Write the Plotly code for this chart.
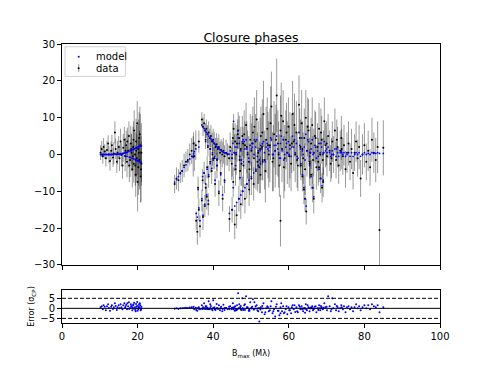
import plotly.graph_objects as go

# short baselines (10-21 Mλ)
b_short = [10.2, 10.5, 10.8, 11.0, 11.3, 11.6, 11.9, 12.2, 12.4, 12.7,
           13.0, 13.2, 13.5, 13.7, 14.0, 14.2, 14.5, 14.7, 15.0, 15.2,
           15.5, 15.7, 16.0, 16.2, 16.5, 16.7, 17.0, 17.2, 17.5, 17.7,
           18.0, 18.2, 18.4, 18.6, 18.8, 19.0, 19.1, 19.3, 19.5, 19.6,
           19.8, 19.9, 20.1, 20.2, 20.4, 20.5, 20.7, 20.8, 21.0, 21.0,
           17.3, 17.8, 18.3, 18.9, 19.4, 19.7, 20.0, 20.3, 20.6, 20.9,
           16.8, 18.7]
cp_short = [0.5, 1.5, -0.5, 2.0, 0.8, -1.0, 1.2, 3.0, 0.0, -1.8,
            1.0, 2.5, -0.8, 0.3, 6.0, 1.5, -2.0, 0.5, 2.0, -1.0,
            3.5, 0.0, -3.0, 1.8, 4.0, -0.5, 2.5, -2.0, 1.0, 5.0,
            -1.5, 3.0, 0.5, -4.0, 2.0, -2.5, 6.5, 0.0, -5.5, 3.5,
            -1.0, 8.5, 1.5, -3.5, 4.5, -1.5, 2.5, -6.0, 0.5, -2.5,
            3.5, -3.0, 1.5, 4.0, -3.0, 1.0, -7.5, 0.5, 5.5, -4.0,
            1.0, -0.5]
err_short = [2.0, 2.2, 2.0, 2.5, 2.0, 2.3, 2.5, 2.2, 2.4, 2.6,
             2.5, 2.8, 2.6, 3.0, 3.0, 2.8, 3.0, 3.2, 3.0, 3.5,
             3.5, 3.2, 3.6, 3.8, 3.5, 4.0, 4.0, 4.2, 4.5, 4.0,
             4.6, 4.8, 5.0, 5.0, 5.5, 5.2, 5.5, 6.0, 6.0, 6.2,
             6.5, 6.0, 7.0, 7.5, 7.0, 8.0, 8.5, 7.0, 8.0, 6.0,
             3.8, 4.5, 4.2, 5.0, 5.5, 7.0, 8.0, 9.0, 7.5, 9.0,
             3.5, 4.0]
mod_short = [0.0, 0.0, 0.0, 0.0, 0.0, 0.0, 0.0, 0.0, 0.0, 0.0,
             0.0, 0.0, 0.0, 0.0, 0.1, 0.1, 0.0, 0.1, 0.1, 0.1,
             0.2, -0.2, 0.2, 0.3, 0.4, -0.3, 0.5, -0.5, 0.8, 0.9,
             -0.8, 1.0, 1.2, -1.0, 1.4, -1.2, 1.5, 1.6, -1.5, 1.8,
             -1.6, 2.0, 2.1, -1.8, 2.2, -2.0, 2.3, -2.1, 2.3, -2.2,
             0.6, -0.7, 1.1, 1.4, -1.4, 1.8, -1.7, 2.1, 2.2, -2.2,
             0.5, 1.3]
res_short = [0.5, 1.0, -0.5, 1.5, 0.8, -1.0, 1.0, 2.0, 0.2, -1.2,
             0.8, 1.5, -0.3, 0.5, 2.5, 1.2, -0.8, 0.6, 1.5, 0.0,
             2.0, 0.5, -0.5, 1.5, 2.5, 0.3, 1.8, -0.5, 1.0, 3.0,
             0.2, 2.0, 0.8, -1.0, 1.5, -0.2, 2.8, 0.5, -1.5, 2.2,
             0.0, 3.2, 1.2, -0.5, 2.0, 0.5, 1.5, -1.0, 0.8, 0.0,
             2.5, -0.3, 1.2, 2.0, -0.8, 1.0, -1.2, 0.5, 2.5, -0.6,
             1.0, 0.4]

# mid baselines (30-44 Mλ)
b_mid = [29.8, 30.3, 30.8, 31.3, 31.8, 32.3, 32.8, 33.3, 33.8, 34.3,
         34.8, 35.0, 35.4, 34.7, 36.2,
         35.5, 35.8, 36.2, 36.5, 37.0, 37.3, 37.8, 38.3, 38.7, 36.0,
         37.0, 37.3, 37.6, 37.9, 38.2, 38.5, 38.8, 39.1, 39.4, 39.7,
         40.0, 40.3, 40.6, 40.9, 41.2, 41.5, 41.8, 42.1, 42.4, 42.7,
         43.0, 43.4, 43.8, 44.2,
         38.0, 38.6, 39.2, 39.8, 40.4, 41.0,
         37.2, 37.6, 38.0, 38.4, 38.8, 39.2, 39.6, 40.0, 40.5, 41.0,
         41.5, 42.0, 42.5, 43.0]
cp_mid = [-8.0, -6.5, -7.0, -5.0, -4.5, -3.0, -2.0, -1.5, 0.0, 1.0,
          3.0, -0.5, 2.5, -0.5, 3.5,
          -18.0, -21.0, -15.0, -19.5, -12.5, -17.0, -14.0, -11.5, -13.5, -9.0,
          9.5, 7.5, 8.5, 6.5, 7.0, 5.5, 6.0, 4.5, 5.0, 3.5,
          4.0, 3.0, 2.0, 2.8, 1.5, 2.0, 0.5, 1.2, 0.0, 1.0,
          -0.5, 0.5, 0.0, -1.0,
          4.0, 2.0, 1.5, 0.0, -1.0, -1.5,
          -7.0, -5.0, -9.0, -3.5, -6.0, -2.0, -4.5, -1.0, -8.0, -3.0,
          -10.5, -5.0, -12.0, -7.0]
err_mid = [2.5, 3.0, 3.0, 2.8, 3.0, 3.2, 2.8, 3.0, 3.0, 3.5,
           3.0, 4.0, 4.0, 5.5, 3.0,
           2.5, 3.5, 3.0, 3.0, 3.0, 3.5, 3.0, 3.5, 3.0, 3.0,
           2.0, 2.5, 2.5, 2.0, 2.5, 2.5, 3.0, 2.5, 3.0, 2.5,
           3.0, 3.0, 2.5, 3.0, 3.0, 3.5, 3.0, 3.0, 3.5, 3.5,
           3.0, 3.5, 3.0, 3.5,
           2.5, 2.5, 3.0, 3.0, 3.0, 3.0,
           3.0, 3.0, 3.5, 3.0, 3.0, 3.0, 3.5, 3.0, 3.5, 3.5,
           3.5, 3.5, 3.5, 3.5]
mod_mid = [-7.5, -6.8, -6.0, -5.2, -4.5, -3.5, -2.8, -2.0, -1.2, -0.5,
           0.2, 0.8, 1.5, -0.8, 2.0,
           -16.0, -17.0, -14.5, -18.0, -12.0, -16.5, -13.5, -11.0, -12.5, -9.5,
           8.0, 7.5, 7.0, 6.5, 6.0, 5.5, 5.0, 4.6, 4.2, 3.8,
           3.4, 3.0, 2.6, 2.2, 1.9, 1.6, 1.3, 1.0, 0.8, 0.6,
           0.4, 0.3, 0.2, 0.1,
           3.5, 2.5, 1.5, 0.5, -0.5, -1.2,
           -6.0, -5.0, -8.0, -4.0, -5.5, -2.5, -3.8, -1.5, -7.0, -3.0,
           -10.0, -5.5, -11.0, -7.5]
res_mid = [-0.2, 0.1, -0.3, 0.1, 0.0, 0.2, 0.3, 0.2, 0.4, 0.5,
           0.8, -0.5, 0.3, 0.1, 0.5,
           -0.8, -1.2, -0.2, -0.5, -0.2, -0.1, -0.2, -0.2, -0.3, 0.2,
           1.5, 0.5, 2.5, 0.0, 1.0, 0.2, 3.5, -0.5, 1.2, -0.3,
           4.0, 0.5, -0.8, 2.2, -0.2, 1.5, -1.0, 0.8, -1.5, 1.8,
           -0.8, 0.3, -0.5, 0.8,
           1.0, -0.5, 2.0, -1.0, -0.5, 0.0,
           -0.3, 0.0, -0.3, 0.2, -0.2, 0.2, -0.2, 0.2, -0.3, 0.0,
           -0.2, 0.2, -0.3, 0.2]

# long baselines, main band (44-85 Mλ)
b_long = [44.5, 44.9, 45.2, 45.6, 45.9, 46.3, 46.6, 47.0, 47.3, 47.7,
          48.0, 48.4, 48.7, 49.1, 49.4, 49.8, 50.1, 50.5, 50.8, 51.2,
          51.5, 51.9, 52.2, 52.6, 52.9, 53.3, 53.6, 54.0, 54.3, 54.7,
          55.0, 55.4, 55.7, 56.1, 56.4, 56.8, 57.1, 57.5, 57.8, 58.2,
          58.5, 58.9, 59.2, 59.6, 59.9, 60.3, 60.6, 61.0, 61.3, 61.7,
          62.0, 62.4, 62.7, 63.1, 63.4, 63.8, 64.1, 64.5, 64.8, 65.2,
          65.5, 65.9, 66.2, 66.6, 66.9, 67.3, 67.6, 68.0, 68.3, 68.7,
          69.0, 69.4, 69.7, 70.1, 70.4, 70.8, 71.1, 71.5, 71.8, 72.2,
          72.5, 72.9, 73.2, 73.6, 73.9, 74.3, 74.6, 75.0, 75.4, 75.8,
          76.2, 76.6, 77.0, 77.4, 77.8, 78.2, 78.6, 79.0, 79.5, 80.0,
          80.5, 81.0, 81.5, 82.0, 82.5, 83.0, 83.5, 84.0, 85.0]
cp_long = [2.0, -2.5, 4.5, 0.5, -4.0, 3.0, 6.5, -1.5, 1.5, 5.0,
           -3.0, 2.5, 8.0, 0.0, -2.0, 4.0, 1.0, 6.0, -1.0, 3.5,
           9.5, 0.5, -3.5, 5.0, 2.0, 11.0, -1.5, 4.0, 7.0, 0.0,
           2.5, 13.0, -2.0, 5.5, 1.0, 16.0, 3.0, -3.0, 6.5, 1.5,
           9.0, -1.0, 4.0, 0.5, 7.5, 2.5, -2.5, 11.0, 3.5, 0.0,
           6.0, -3.0, 13.5, 2.0, 8.5, -1.0, 4.5, 10.0, 1.0, 6.5,
           -2.0, 3.0, 8.0, 0.5, 5.0, -3.5, 2.0, 7.0, 0.0, 4.0,
           -1.5, 9.0, 2.5, -0.5, 5.0, 1.0, -2.5, 3.5, 0.0, 6.5,
           -1.5, 2.0, -3.0, 1.0, 4.5, -0.5, 2.5, -4.0, 0.5, 3.0,
           -2.0, 1.5, -5.0, 0.5, 3.5, -1.0, 2.0, -6.5, 0.0, 2.5,
           -2.0, 1.0, -3.5, 4.0, 0.5, -1.5, 2.0, -20.5, 1.8]
err_long = [4.0, 4.5, 4.0, 5.0, 4.5, 5.0, 5.0, 5.5, 6.0, 5.5,
            6.0, 6.5, 6.0, 6.5, 7.0, 7.0, 7.5, 7.0, 8.0, 7.5,
            8.0, 8.5, 7.0, 8.0, 9.0, 9.0, 8.0, 9.0, 8.5, 9.0,
            10.0, 9.5, 8.0, 9.0, 10.0, 10.0, 9.0, 8.5, 9.5, 9.0,
            8.5, 9.0, 8.0, 8.5, 8.0, 9.0, 7.5, 9.0, 8.0, 7.5,
            8.5, 7.0, 8.0, 7.5, 9.0, 7.0, 8.0, 7.5, 7.0, 8.5,
            6.5, 7.0, 7.5, 6.5, 7.0, 6.0, 6.5, 7.0, 6.0, 6.5,
            6.0, 6.5, 6.0, 5.5, 6.0, 5.5, 5.0, 5.5, 5.0, 6.0,
            5.0, 5.5, 5.0, 5.5, 6.0, 5.0, 5.5, 5.0, 5.5, 6.0,
            5.0, 5.5, 4.5, 5.0, 5.5, 5.0, 6.0, 5.0, 5.5, 6.0,
            5.0, 5.5, 5.0, 6.0, 5.5, 6.0, 7.0, 10.0, 7.5]
mod_long = [1.0, -1.0, 3.0, 0.5, -3.0, 2.0, 4.5, -0.5, 1.0, 3.5,
            -2.0, 1.5, 4.0, 0.5, -1.0, 2.5, 1.5, 3.0, 0.0, 2.0,
            4.0, 1.0, -1.5, 2.5, 1.5, 3.5, 0.5, 2.0, 3.0, 1.0,
            2.0, 4.0, 0.0, 2.5, 1.0, 5.0, 1.5, -1.0, 3.0, 1.0,
            4.0, 0.0, 2.0, 0.5, 3.5, 1.5, -0.5, 5.0, 2.0, 0.5,
            3.0, -1.0, 6.0, 1.5, 4.5, 0.0, 2.0, 5.5, 1.0, 3.5,
            -0.5, 1.5, 4.0, 0.5, 2.5, -1.0, 1.0, 3.0, 0.5, 2.0,
            0.0, 3.5, 1.0, 0.5, 2.0, 0.5, -0.5, 1.0, 0.0, 1.5,
            -0.5, 0.5, -0.5, 0.5, 1.0, 0.0, 0.5, -0.5, 0.0, 0.5,
            -0.5, 0.5, -0.5, 0.0, 0.5, 0.0, 0.5, -0.5, 0.0, 0.5,
            0.0, 0.3, 0.0, 0.5, 0.3, 0.3, 0.5, 0.3, 0.3]
res_long = [1.0, -0.5, 2.5, 0.5, -1.0, 1.5, 7.5, 0.0, 1.2, 5.0,
            -0.8, 2.0, 6.0, 0.5, -1.2, 3.0, 0.3, 4.5, -0.5, 1.0,
            1.5, -1.5, -6.5, 0.5, -2.0, 2.5, -3.0, 0.0, 1.0, -1.5,
            -1.0, 3.5, -2.5, -0.5, -4.0, 2.0, -1.2, -3.5, 0.5, -1.5,
            1.0, -2.0, -0.5, -3.0, 0.5, -1.0, -2.5, 1.5, -0.5, -1.8,
            0.5, -2.0, 1.5, -0.5, 1.0, -1.5, 0.0, 2.0, -1.0, 0.5,
            -1.5, 0.5, 1.0, -0.5, 0.8, -2.0, 0.0, 1.5, -1.0, 0.5,
            -0.5, 2.5, 0.5, -1.0, 6.0, 1.0, -1.5, 5.0, 0.0, 2.0,
            -1.0, 0.5, -1.5, 0.0, 1.5, -0.5, 1.0, -2.0, 0.5, 1.0,
            -0.5, 0.5, -1.5, 0.5, 2.0, 0.0, 1.0, -1.0, 0.5, 1.5,
            0.0, 1.5, -0.5, 2.0, 1.0, 0.5, 1.5, -2.0, 0.5]

# long baselines, extra points filling the dense hump
b_fill = [45.0, 45.8, 46.1, 46.9, 47.5, 48.2, 48.9, 49.6, 50.3, 50.9,
          51.7, 52.4, 53.0, 53.8, 54.5, 55.2, 55.9, 56.6, 57.3, 58.0,
          58.7, 59.4, 60.1, 60.8, 61.5, 62.2, 62.9, 63.6, 64.3, 65.0,
          65.7, 66.4, 67.1, 67.8, 68.5, 69.2, 70.0, 71.3, 72.7, 74.0]
cp_fill = [-1.0, 3.5, 0.0, 4.5, -2.5, 5.5, 2.0, -4.0, 3.0, 7.5,
           -2.0, 1.5, 6.0, -4.5, 2.5, 8.5, -1.0, 4.0, 0.0, 10.5,
           -3.5, 6.0, -0.5, 3.0, 8.0, -1.5, 4.5, 1.5, -4.0, 7.5,
           0.5, -1.5, 4.5, -2.0, 6.0, 0.5, 3.0, -1.0, 4.0, 1.5]
err_fill = [5.0, 5.0, 5.5, 6.0, 6.0, 6.5, 7.0, 7.0, 7.5, 8.0,
            8.0, 8.5, 9.0, 8.5, 9.0, 10.0, 9.0, 9.5, 9.0, 9.0,
            8.5, 8.0, 8.5, 8.0, 8.5, 7.5, 8.0, 7.5, 7.0, 8.0,
            7.0, 6.5, 7.0, 6.5, 6.5, 6.0, 6.0, 5.5, 5.5, 5.5]
mod_fill = [0.0, 2.0, 0.5, 3.0, -1.5, 3.5, 1.5, -2.0, 2.0, 4.0,
            -0.5, 1.0, 3.0, -2.0, 1.5, 4.5, 0.0, 2.5, 0.5, 5.0,
            -1.5, 3.0, 0.0, 2.0, 4.0, -0.5, 2.5, 1.0, -1.5, 4.0,
            0.5, 0.0, 2.0, -0.5, 3.0, 0.5, 1.5, 0.0, 1.5, 0.5]
res_fill = [0.3, 1.0, -0.5, 2.0, -0.8, 1.5, 0.5, -1.2, 0.8, 3.0,
            -1.0, 0.2, 1.2, -2.0, 0.5, 1.0, -1.5, 0.8, -1.2, 2.5,
            -2.5, 1.0, -1.0, 0.5, 1.5, -1.5, 0.8, -0.5, -2.2, 1.5,
            0.0, -1.0, 1.0, -0.8, 1.2, 0.3, 0.8, -0.5, 1.2, 0.5]

# long baselines, arcs and outliers
b_arc = [44.3, 45.0, 45.7, 46.2, 46.8, 47.3, 47.8, 48.4, 48.9, 49.5,
         50.1, 50.7, 51.3, 51.9, 52.5, 53.1,
         45.4, 46.5, 47.9, 45.3, 47.1,
         63.2, 63.6, 64.0, 64.3, 64.6, 65.5, 65.9, 66.3, 66.6, 68.0,
         68.4, 68.8, 69.1,
         57.8]
cp_arc = [-17.5, -15.0, -19.0, -16.5, -12.0, -13.5, -10.0, -12.0, -8.0, -9.5,
          -6.5, -8.0, -4.5, -3.0, -5.5, -2.0,
          7.0, 5.5, 3.0, -7.5, -4.5,
          -3.0, -6.0, -9.5, -12.0, -15.5, -2.5, -5.5, -9.0, -12.0, -3.5,
          -6.5, -9.0, -7.5,
          -18.0]
err_arc = [3.5, 3.5, 4.0, 3.5, 3.5, 4.0, 4.0, 4.0, 4.0, 4.5,
           4.5, 4.5, 5.0, 5.0, 5.0, 5.0,
           4.0, 4.0, 4.5, 4.0, 4.0,
           4.0, 4.0, 4.0, 3.5, 3.5, 4.0, 4.0, 4.0, 4.0, 4.0,
           4.0, 4.0, 4.0,
           7.0]
mod_arc = [-16.0, -15.0, -14.0, -13.0, -12.0, -11.0, -10.0, -9.0, -8.0, -7.0,
           -6.0, -5.0, -4.0, -3.0, -2.5, -1.5,
           9.0, 6.5, 4.0, -9.0, -6.3,
           -2.5, -5.5, -9.0, -12.0, -14.0, -3.0, -6.0, -9.0, -11.5, -4.0,
           -6.5, -8.5, -7.0,
           -1.0]
res_arc = [-0.5, 0.0, -1.2, -1.0, 0.0, -0.6, 0.0, -0.8, 0.0, -0.5,
           -0.1, -0.6, -0.1, 0.0, -0.6, -0.1,
           -0.5, -0.3, -0.2, 0.4, 0.5,
           -0.1, -0.1, -0.1, 0.0, -0.4, 0.1, 0.1, 0.0, -0.1, 0.1,
           0.0, -0.1, -0.1,
           -2.4]

b = b_short + b_mid + b_long + b_fill + b_arc
cp = cp_short + cp_mid + cp_long + cp_fill + cp_arc
err = err_short + err_mid + err_long + err_fill + err_arc
model = mod_short + mod_mid + mod_long + mod_fill + mod_arc
resid = res_short + res_mid + res_long + res_fill + res_arc

font = "DejaVu Sans"
bar_color = "rgba(0,0,0,0.4)"
fig = go.Figure()
fig.add_trace(go.Scatter(
    x=b, y=cp, mode="markers", name="data", showlegend=False,
    marker=dict(color="black", size=2),
    error_y=dict(type="data", array=err, color=bar_color, thickness=1, width=0),
))
fig.add_trace(go.Scatter(
    x=b, y=model, mode="markers", name="model", showlegend=False,
    marker=dict(color="blue", size=1.8),
))
fig.add_trace(go.Scatter(
    x=b, y=resid, mode="markers", showlegend=False,
    marker=dict(color="blue", size=2), xaxis="x2", yaxis="y2",
))

axis_style = dict(showline=True, mirror=True, linecolor="black", linewidth=1,
                  ticks="outside", ticklen=4, tickcolor="black",
                  showgrid=False, zeroline=False,
                  tickfont=dict(family=font, size=10, color="black"))

# horizontal guide lines in the error panel
for yv, dash in [(0, "solid"), (5, "4px,2px"), (-5, "4px,2px")]:
    fig.add_shape(type="line", xref="x2", yref="y2", x0=0, x1=100, y0=yv, y1=yv,
                  line=dict(color="black", width=1, dash=dash))

# hand-made legend (matplotlib look: tiny dot and errorbar symbol)
fig.add_shape(type="rect", xref="paper", yref="paper", x0=0.008, x1=0.1675, y0=0.884, y1=0.990,
              line=dict(color="#d0d0d0", width=1), fillcolor="rgba(255,255,255,0.8)")
fig.add_shape(type="circle", xref="paper", yref="paper", xsizemode="pixel", ysizemode="pixel",
              xanchor=0.0442, yanchor=0.9545, x0=-1, x1=1, y0=-1, y1=1,
              line=dict(width=0), fillcolor="blue")
fig.add_shape(type="line", xref="paper", yref="paper", x0=0.0442, x1=0.0442, y0=0.899, y1=0.928,
              line=dict(color=bar_color, width=1))
fig.add_shape(type="circle", xref="paper", yref="paper", xsizemode="pixel", ysizemode="pixel",
              xanchor=0.0442, yanchor=0.913, x0=-1, x1=1, y0=-1, y1=1,
              line=dict(width=0), fillcolor="black")
for label, yv in [("model", 0.9545), ("data", 0.913)]:
    fig.add_annotation(text=label, xref="paper", yref="paper", x=0.0854, y=yv,
                       xanchor="left", yanchor="middle", showarrow=False,
                       font=dict(family=font, size=10, color="black"))

# page has an 8px body margin, so the figure is 482x360
fig.update_layout(
    width=482, height=360,
    margin=dict(l=54, r=50, t=36, b=45),
    paper_bgcolor="white", plot_bgcolor="white",
    font=dict(family=font, color="black"),
    title=dict(text="Closure phases", x=0.504, xanchor="center", y=0.919, yanchor="middle",
               font=dict(family=font, size=12.5, color="black")),
    xaxis=dict(domain=[0, 1], range=[0, 100], tickvals=[0, 20, 40, 60, 80, 100],
               showticklabels=False, anchor="y", **axis_style),
    yaxis=dict(domain=[0.208, 1], range=[-30, 30], tickvals=[-30, -20, -10, 0, 10, 20, 30],
               anchor="x", **axis_style),
    xaxis2=dict(domain=[0, 1], range=[0, 100], tickvals=[0, 20, 40, 60, 80, 100],
                anchor="y2",
                title=dict(text="B<sub>max</sub> (Mλ)", font=dict(family=font, size=8), standoff=9),
                **axis_style),
    yaxis2=dict(domain=[0, 0.118], range=[-7.3, 9.1], tickvals=[-5, 0, 5], anchor="x2",
                title=dict(text="Error (σ<sub>CP</sub>)", font=dict(family=font, size=8), standoff=4),
                **axis_style),
    showlegend=False,
)

fig.write_html("out.html")
